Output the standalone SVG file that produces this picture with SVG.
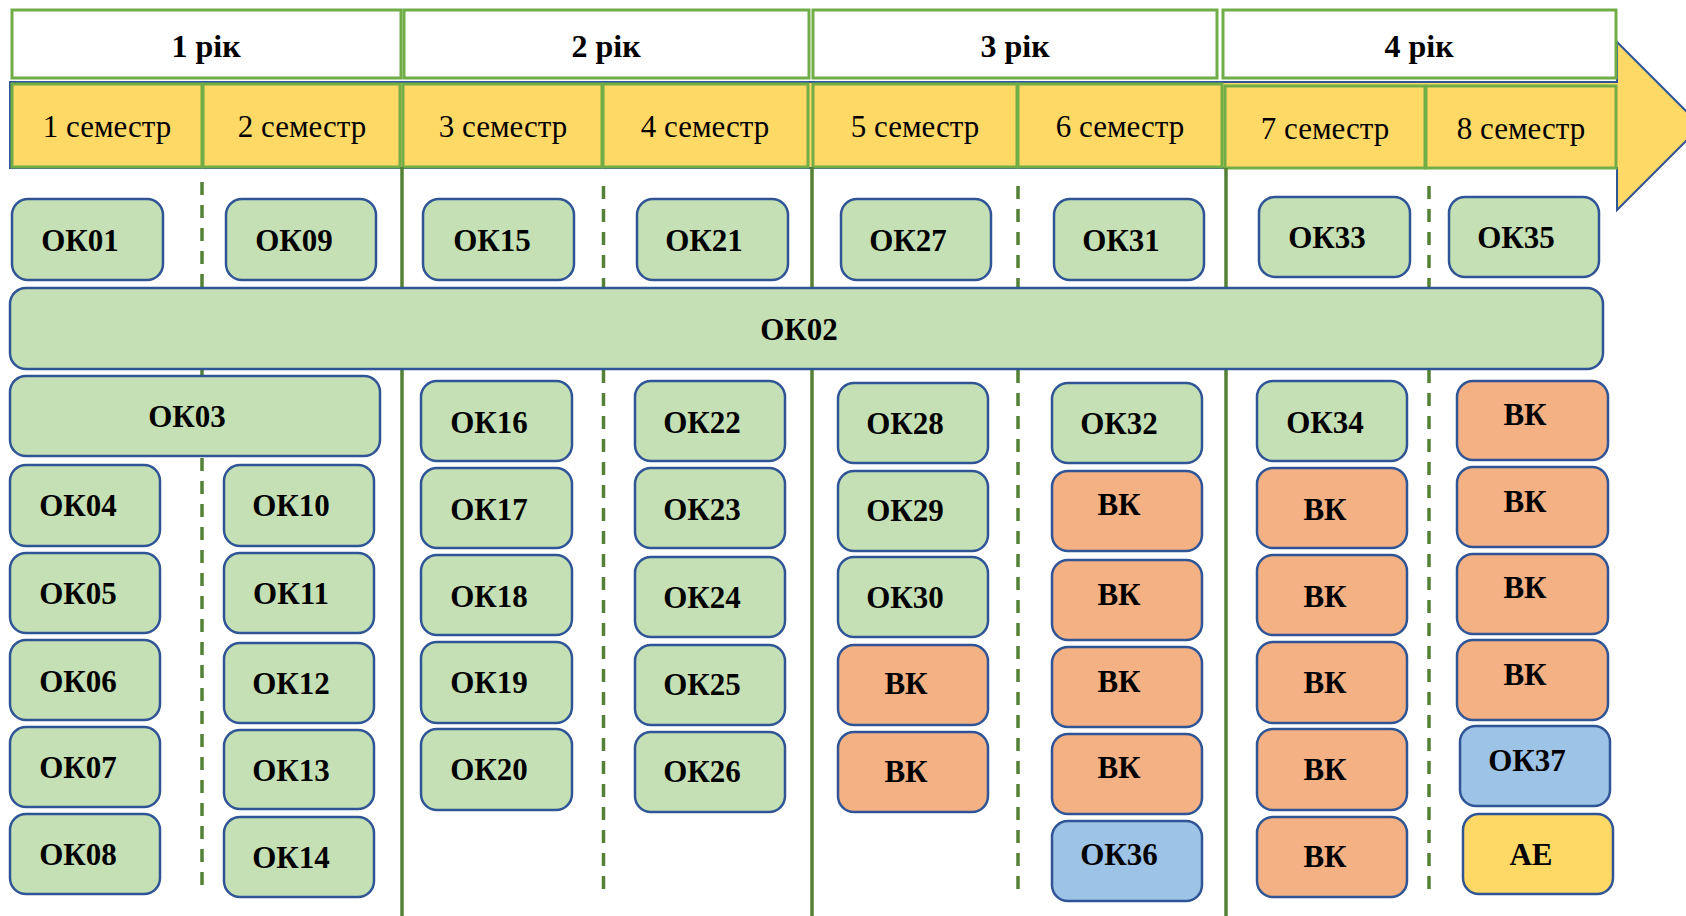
<svg xmlns="http://www.w3.org/2000/svg" width="1686" height="916" viewBox="0 0 1686 916">
<style>
.yr{fill:#FFFFFF;stroke:#70AD47;stroke-width:3}
.sem{fill:#FFD966;stroke:#70AD47;stroke-width:3}
.n{stroke:#2F5597;stroke-width:2.5}
.g{fill:#C5E0B4}
.o{fill:#F4B183}
.b{fill:#9DC3E6}
.y{fill:#FFD966}
.t{font-family:"Liberation Serif","Times New Roman",serif;font-weight:bold;font-size:31px;fill:#000;text-anchor:middle}
.st{font-family:"Liberation Serif","Times New Roman",serif;font-size:31px;fill:#000;text-anchor:middle}
.solid{stroke:#538135;stroke-width:3.5;fill:none}
.dash{stroke:#538135;stroke-width:3.5;fill:none;stroke-dasharray:13 10}
</style>
<rect width="1686" height="916" fill="#FFFFFF"/>
<g id="timeline-arrow">
<polygon points="10,82 1617,82 1617,42 1701,126 1617,210 1617,168 10,168" fill="#FFD966" stroke="#2F5597" stroke-width="2"/>
</g>
<g id="years">
<g id="year1"><rect class="yr" x="12" y="10" width="389" height="68"/><text class="t" x="206" y="57" style="font-size:32px">1 рік</text></g>
<g id="year2"><rect class="yr" x="404" y="10" width="405" height="68"/><text class="t" x="606" y="57" style="font-size:32px">2 рік</text></g>
<g id="year3"><rect class="yr" x="813" y="10" width="404" height="68"/><text class="t" x="1015" y="57" style="font-size:32px">3 рік</text></g>
<g id="year4"><rect class="yr" x="1223" y="10" width="393" height="68"/><text class="t" x="1419" y="57" style="font-size:32px">4 рік</text></g>
</g>
<g id="semesters">
<g id="sem1"><rect class="sem" x="12" y="84" width="190" height="83"/><text class="st" x="107" y="137">1 семестр</text></g>
<g id="sem2"><rect class="sem" x="203" y="84" width="197" height="83"/><text class="st" x="302" y="137">2 семестр</text></g>
<g id="sem3"><rect class="sem" x="403" y="84" width="199" height="83"/><text class="st" x="503" y="137">3 семестр</text></g>
<g id="sem4"><rect class="sem" x="603" y="84" width="205" height="83"/><text class="st" x="705" y="137">4 семестр</text></g>
<g id="sem5"><rect class="sem" x="813" y="84" width="204" height="83"/><text class="st" x="915" y="137">5 семестр</text></g>
<g id="sem6"><rect class="sem" x="1018" y="84" width="204" height="83"/><text class="st" x="1120" y="137">6 семестр</text></g>
<g id="sem7"><rect class="sem" x="1225" y="86" width="200" height="82"/><text class="st" x="1325" y="139">7 семестр</text></g>
<g id="sem8"><rect class="sem" x="1426" y="86" width="190" height="82"/><text class="st" x="1521" y="139">8 семестр</text></g>
</g>
<g id="connectors">
<line class="solid" x1="402" y1="167" x2="402" y2="916"/>
<line class="solid" x1="812" y1="167" x2="812" y2="916"/>
<line class="solid" x1="1226" y1="168" x2="1226" y2="916"/>
<line class="dash" x1="202" y1="182" x2="202" y2="894"/>
<line class="dash" x1="603.5" y1="186" x2="603.5" y2="898"/>
<line class="dash" x1="1018" y1="186" x2="1018" y2="898"/>
<line class="dash" x1="1429" y1="186" x2="1429" y2="898"/>
</g>
<g id="nodes">
<g id="OK01"><rect class="n g" x="12" y="199" width="151" height="81" rx="16"/><text class="t" x="80" y="251">ОК01</text></g>
<g id="OK09"><rect class="n g" x="226" y="199" width="150" height="81" rx="16"/><text class="t" x="294" y="251">ОК09</text></g>
<g id="OK15"><rect class="n g" x="423" y="199" width="151" height="81" rx="16"/><text class="t" x="492" y="251">ОК15</text></g>
<g id="OK21"><rect class="n g" x="637" y="199" width="151" height="81" rx="16"/><text class="t" x="704" y="251">ОК21</text></g>
<g id="OK27"><rect class="n g" x="841" y="199" width="150" height="81" rx="16"/><text class="t" x="908" y="251">ОК27</text></g>
<g id="OK31"><rect class="n g" x="1054" y="199" width="150" height="81" rx="16"/><text class="t" x="1121" y="251">ОК31</text></g>
<g id="OK33"><rect class="n g" x="1259" y="197" width="151" height="80" rx="16"/><text class="t" x="1327" y="248">ОК33</text></g>
<g id="OK35"><rect class="n g" x="1449" y="197" width="150" height="80" rx="16"/><text class="t" x="1516" y="248">ОК35</text></g>
<g id="OK02"><rect class="n g" x="10" y="288" width="1593" height="81" rx="16"/><text class="t" x="799" y="340">ОК02</text></g>
<g id="OK03"><rect class="n g" x="10" y="376" width="370" height="80" rx="16"/><text class="t" x="187" y="427">ОК03</text></g>
<g id="OK04"><rect class="n g" x="10" y="465" width="150" height="81" rx="16"/><text class="t" x="78" y="516">ОК04</text></g>
<g id="OK05"><rect class="n g" x="10" y="553" width="150" height="80" rx="16"/><text class="t" x="78" y="604">ОК05</text></g>
<g id="OK06"><rect class="n g" x="10" y="640" width="150" height="80" rx="16"/><text class="t" x="78" y="692">ОК06</text></g>
<g id="OK07"><rect class="n g" x="10" y="727" width="150" height="80" rx="16"/><text class="t" x="78" y="778">ОК07</text></g>
<g id="OK08"><rect class="n g" x="10" y="814" width="150" height="80" rx="16"/><text class="t" x="78" y="865">ОК08</text></g>
<g id="OK10"><rect class="n g" x="224" y="465" width="150" height="81" rx="16"/><text class="t" x="291" y="516">ОК10</text></g>
<g id="OK11"><rect class="n g" x="224" y="553" width="150" height="80" rx="16"/><text class="t" x="291" y="604">ОК11</text></g>
<g id="OK12"><rect class="n g" x="224" y="643" width="150" height="80" rx="16"/><text class="t" x="291" y="694">ОК12</text></g>
<g id="OK13"><rect class="n g" x="224" y="730" width="150" height="79" rx="16"/><text class="t" x="291" y="781">ОК13</text></g>
<g id="OK14"><rect class="n g" x="224" y="817" width="150" height="80" rx="16"/><text class="t" x="291" y="868">ОК14</text></g>
<g id="OK16"><rect class="n g" x="421" y="381" width="151" height="80" rx="16"/><text class="t" x="489" y="433">ОК16</text></g>
<g id="OK17"><rect class="n g" x="421" y="468" width="151" height="80" rx="16"/><text class="t" x="489" y="520">ОК17</text></g>
<g id="OK18"><rect class="n g" x="421" y="555" width="151" height="80" rx="16"/><text class="t" x="489" y="607">ОК18</text></g>
<g id="OK19"><rect class="n g" x="421" y="642" width="151" height="81" rx="16"/><text class="t" x="489" y="693">ОК19</text></g>
<g id="OK20"><rect class="n g" x="421" y="729" width="151" height="81" rx="16"/><text class="t" x="489" y="780">ОК20</text></g>
<g id="OK22"><rect class="n g" x="635" y="381" width="150" height="80" rx="16"/><text class="t" x="702" y="433">ОК22</text></g>
<g id="OK23"><rect class="n g" x="635" y="468" width="150" height="80" rx="16"/><text class="t" x="702" y="520">ОК23</text></g>
<g id="OK24"><rect class="n g" x="635" y="557" width="150" height="80" rx="16"/><text class="t" x="702" y="608">ОК24</text></g>
<g id="OK25"><rect class="n g" x="635" y="645" width="150" height="80" rx="16"/><text class="t" x="702" y="695">ОК25</text></g>
<g id="OK26"><rect class="n g" x="635" y="732" width="150" height="80" rx="16"/><text class="t" x="702" y="782">ОК26</text></g>
<g id="OK28"><rect class="n g" x="838" y="383" width="150" height="80" rx="16"/><text class="t" x="905" y="434">ОК28</text></g>
<g id="OK29"><rect class="n g" x="838" y="471" width="150" height="80" rx="16"/><text class="t" x="905" y="521">ОК29</text></g>
<g id="OK30"><rect class="n g" x="838" y="557" width="150" height="80" rx="16"/><text class="t" x="905" y="608">ОК30</text></g>
<g id="VK5a"><rect class="n o" x="838" y="645" width="150" height="80" rx="16"/><text class="t" x="906" y="694">ВК</text></g>
<g id="VK5b"><rect class="n o" x="838" y="732" width="150" height="80" rx="16"/><text class="t" x="906" y="782">ВК</text></g>
<g id="OK32"><rect class="n g" x="1052" y="383" width="150" height="80" rx="16"/><text class="t" x="1119" y="434">ОК32</text></g>
<g id="VK6a"><rect class="n o" x="1052" y="471" width="150" height="80" rx="16"/><text class="t" x="1119" y="515">ВК</text></g>
<g id="VK6b"><rect class="n o" x="1052" y="560" width="150" height="80" rx="16"/><text class="t" x="1119" y="605">ВК</text></g>
<g id="VK6c"><rect class="n o" x="1052" y="647" width="150" height="80" rx="16"/><text class="t" x="1119" y="692">ВК</text></g>
<g id="VK6d"><rect class="n o" x="1052" y="734" width="150" height="80" rx="16"/><text class="t" x="1119" y="778">ВК</text></g>
<g id="OK36"><rect class="n b" x="1052" y="821" width="150" height="80" rx="16"/><text class="t" x="1119" y="865">ОК36</text></g>
<g id="OK34"><rect class="n g" x="1257" y="381" width="150" height="80" rx="16"/><text class="t" x="1325" y="433">ОК34</text></g>
<g id="VK7a"><rect class="n o" x="1257" y="468" width="150" height="80" rx="16"/><text class="t" x="1325" y="520">ВК</text></g>
<g id="VK7b"><rect class="n o" x="1257" y="555" width="150" height="80" rx="16"/><text class="t" x="1325" y="607">ВК</text></g>
<g id="VK7c"><rect class="n o" x="1257" y="642" width="150" height="81" rx="16"/><text class="t" x="1325" y="693">ВК</text></g>
<g id="VK7d"><rect class="n o" x="1257" y="729" width="150" height="81" rx="16"/><text class="t" x="1325" y="780">ВК</text></g>
<g id="VK7e"><rect class="n o" x="1257" y="817" width="150" height="80" rx="16"/><text class="t" x="1325" y="867">ВК</text></g>
<g id="VK8a"><rect class="n o" x="1457" y="381" width="151" height="79" rx="16"/><text class="t" x="1525" y="425">ВК</text></g>
<g id="VK8b"><rect class="n o" x="1457" y="467" width="151" height="80" rx="16"/><text class="t" x="1525" y="512">ВК</text></g>
<g id="VK8c"><rect class="n o" x="1457" y="554" width="151" height="80" rx="16"/><text class="t" x="1525" y="598">ВК</text></g>
<g id="VK8d"><rect class="n o" x="1457" y="640" width="151" height="80" rx="16"/><text class="t" x="1525" y="685">ВК</text></g>
<g id="OK37"><rect class="n b" x="1460" y="726" width="150" height="80" rx="16"/><text class="t" x="1527" y="771">ОК37</text></g>
<g id="AE"><rect class="n y" x="1463" y="814" width="150" height="80" rx="16"/><text class="t" x="1531" y="865">АЕ</text></g>
</g>
</svg>
